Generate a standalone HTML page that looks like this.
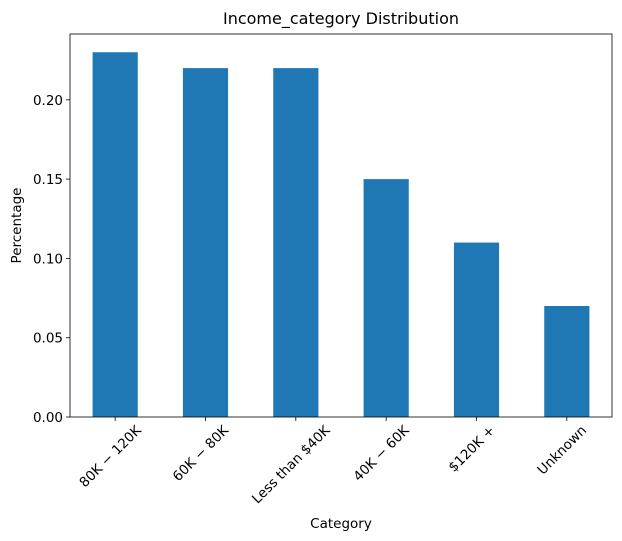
<!DOCTYPE html>
<html><head><meta charset="utf-8"><style>body{margin:0;background:#fff}svg{display:block;font-family:"DejaVu Sans","Liberation Sans",sans-serif}</style></head>
<body>
<svg id="c" width="622" height="541"></svg>
<script>
const categories=["80K \u2212 120K","60K \u2212 80K","Less than $40K","40K \u2212 60K","$120K +","Unknown"];
const values=[0.23,0.22,0.22,0.15,0.11,0.07];
const yTicks=[0,0.05,0.10,0.15,0.20];
const yTickLabels=["0.00","0.05","0.10","0.15","0.20"];
const NS="http://www.w3.org/2000/svg";
const svg=document.getElementById('c');
const L=70,R=612,T=34,B=417,yMax=0.2415;
function y(v){return B-(v/yMax)*(B-T);}
const bw=(R-L)/categories.length;
function x(i){return L+bw*(i+0.5);}
function mk(t,a,p){const e=document.createElementNS(NS,t);for(const k in a)e.setAttribute(k,a[k]);(p||svg).appendChild(e);return e;}
categories.forEach((c,i)=>{
  const r=mk('rect',{x:x(i)-bw*0.25,y:y(values[i]),width:bw*0.5,height:B-y(values[i]),fill:'#1f77b4'});
  
  
  mk('line',{x1:x(i),x2:x(i),y1:B,y2:B+4,stroke:'#000','stroke-width':0.8});
  const t=mk('text',{'font-size':13.5,'text-anchor':'end',fill:'#000'});
  t.textContent=c;
  
  
  const len=t.getComputedTextLength();
  const w=(len+13)*0.7071;
  const ex=x(i)+w/2-9*0.7071, ey=424+10*0.7071;
  t.setAttribute('x',ex);t.setAttribute('y',ey);
  t.setAttribute('transform','rotate(-45 '+ex+' '+ey+')');
});
yTicks.forEach((v,i)=>{
  mk('line',{x1:L-4,x2:L,y1:y(v),y2:y(v),stroke:'#000','stroke-width':0.8});
  const t=mk('text',{x:L-7,y:y(v)+5,'font-size':13.5,'text-anchor':'end'});
  t.textContent=yTickLabels[i];
  
  
});
const f=mk('rect',{x:L,y:T,width:R-L,height:B-T,fill:'none',stroke:'#000','stroke-width':0.8});


const ti=mk('text',{x:(L+R)/2,y:24,'font-size':16,'text-anchor':'middle'});ti.textContent='Income_category Distribution';


const xl=mk('text',{x:(L+R)/2,y:528,'font-size':13.5,'text-anchor':'middle'});xl.textContent='Category';


const yl=mk('text',{x:21,y:(T+B)/2,'font-size':13.5,'text-anchor':'middle',transform:'rotate(-90 21 '+(T+B)/2+')'});yl.textContent='Percentage';


</script>
</body></html>
